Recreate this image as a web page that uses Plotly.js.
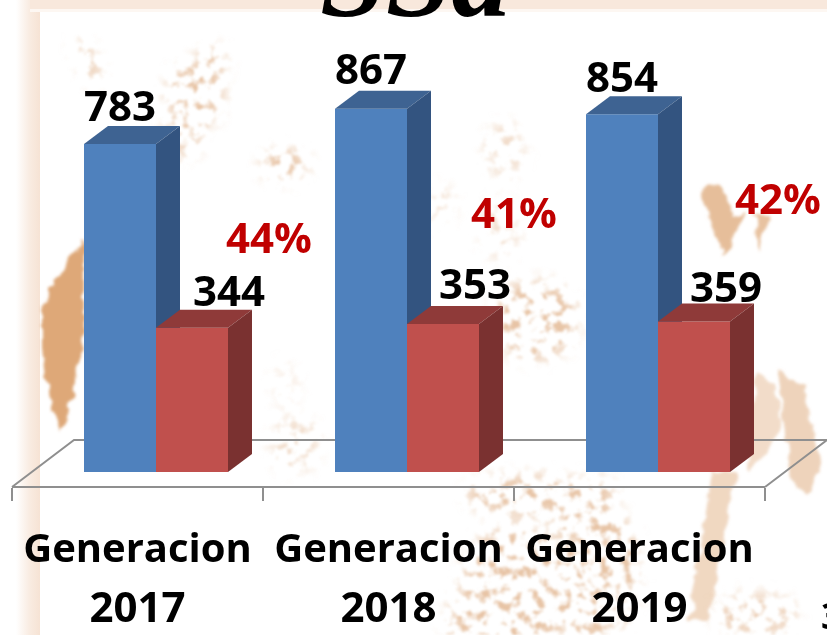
<!DOCTYPE html>
<html>
<head>
<meta charset="utf-8">
<script src="https://cdn.plot.ly/plotly-3.0.1.min.js"></script>
<style>
html,body{margin:0;padding:0;background:#fff;overflow:hidden}
#wrap{position:relative;width:827px;height:635px;overflow:hidden}
#bg,#chart{position:absolute;left:0;top:0;width:827px;height:635px}
</style>
</head>
<body>
<div id="wrap">
<svg id="bg" width="827" height="635" xmlns="http://www.w3.org/2000/svg">
  <defs>
    <filter id="rough" x="-20%" y="-20%" width="140%" height="140%">
      <feTurbulence type="fractalNoise" baseFrequency="0.07" numOctaves="2" seed="4" result="n"/>
      <feDisplacementMap in="SourceGraphic" in2="n" scale="12" xChannelSelector="R" yChannelSelector="G" result="d"/>
      <feGaussianBlur in="d" stdDeviation="1.6"/>
    </filter>
    <filter id="speck" x="0" y="0" width="100%" height="100%" filterUnits="userSpaceOnUse" primitiveUnits="userSpaceOnUse">
      <feGaussianBlur in="SourceGraphic" stdDeviation="8" result="soft"/>
      <feTurbulence type="fractalNoise" baseFrequency="0.09" numOctaves="3" seed="23" result="n"/>
      <feColorMatrix in="n" type="matrix" values="0 0 0 0 0  0 0 0 0 0  0 0 0 0 0  5 0 0 0 -2.55" result="mask"/>
      <feComposite in="soft" in2="mask" operator="in" result="c"/>
      <feGaussianBlur in="c" stdDeviation="1"/>
    </filter>
    <linearGradient id="lb" x1="0" x2="1" y1="0" y2="0">
      <stop offset="0" stop-color="#ffffff"/><stop offset="0.55" stop-color="#f9ece2"/><stop offset="1" stop-color="#f6e3d4"/>
    </linearGradient>
  </defs>
  <rect x="16" y="0" width="24" height="635" fill="url(#lb)"/>
  <rect x="30" y="0" width="797" height="9" fill="#f8e8dc"/>
  <rect x="30" y="9" width="797" height="3" fill="#fdf7f2"/>
  <g filter="url(#rough)" fill="#dea878">
    <polygon points="84,240 66,258 55,285 42,310 42,350 50,400 60,432 72,400 84,330"/>
    <polygon points="700,190 720,183 733,217 747,213 723,257" opacity=".75"/>
    <polygon points="755,215 770,215 760,252" opacity=".7"/>
    <polygon points="778,368 803,385 823,470 805,495 790,480" opacity=".5"/>
    <polygon points="757,372 775,385 782,420 766,455 748,472 750,420" opacity=".4"/>
    <polygon points="712,472 735,472 710,620 690,620" opacity=".45"/>
  </g>
  <g filter="url(#speck)" fill="#d9a06f" opacity=".62">
    <ellipse cx="195" cy="95" rx="28" ry="34"/>
    <ellipse cx="212" cy="62" rx="14" ry="16"/>
    <polygon points="72,42 88,42 104,78 90,84"/>
    <ellipse cx="285" cy="165" rx="24" ry="16"/>
    <ellipse cx="180" cy="140" rx="24" ry="18" opacity=".7"/>
    <ellipse cx="505" cy="150" rx="20" ry="28" opacity=".6"/>
    <ellipse cx="440" cy="205" rx="14" ry="20" opacity=".5"/>
    <ellipse cx="500" cy="230" rx="20" ry="30" opacity=".5"/>
    <ellipse cx="535" cy="320" rx="44" ry="40"/>
    <ellipse cx="295" cy="445" rx="24" ry="28" opacity=".6"/>
    <ellipse cx="285" cy="385" rx="14" ry="24" opacity=".3"/>
    <ellipse cx="525" cy="495" rx="60" ry="20"/>
    <ellipse cx="515" cy="590" rx="55" ry="65"/>
    <ellipse cx="590" cy="570" rx="50" ry="70"/>
    <ellipse cx="470" cy="620" rx="26" ry="26"/>
    <ellipse cx="755" cy="615" rx="42" ry="22" opacity=".8"/>
    <ellipse cx="590" cy="490" rx="30" ry="12"/>
  </g>
</svg>
<div id="chart"></div>
</div>
<script>
// ---- data ----
var categories = ["Generacion<br>2017", "Generacion<br>2018", "Generacion<br>2019"];
var egresados = [783, 867, 854];
var titulados = [344, 353, 359];
var percents = ["44%", "41%", "42%"];

// ---- geometry of the drawing (pixels of the 827x635 page) ----
var W = 827, H = 635;
var PX_PER_UNIT = 0.419, BASE_PX = 472, CAT_PX = 251, FIRST_PX = 156, BAR_PX = 72, DEPTH_X = 24, DEPTH_Y = 18;
var xu = function (px) { return (px - FIRST_PX) / CAT_PX; };
var yu = function (py) { return (BASE_PX - py) / PX_PER_UNIT; };
var barW = BAR_PX / CAT_PX, dX = DEPTH_X / CAT_PX, dY = DEPTH_Y / PX_PER_UNIT;
var xRange = [xu(0), xu(W)], yRange = [yu(H), yu(0)];

var FONT = "'Open Sans', sans-serif";
var FS = 42, CAT_FS = 40, LINE_FS = 45.8;
var labelText = function (t) {
  var parts = t.split("<br>");
  return '<span style="font-size:' + CAT_FS + 'px">' + parts[0] + '</span><br><span style="font-size:' + FS + 'px">' + parts[1] + '</span>';
};

var idx = [0, 1, 2];
function series(values, side, front, top, sideCol, yaxis) {
  var out = [];
  var xs = idx.map(function (i) { return i + side * barW / 2; });
  out.push({type: "bar", x: xs, y: values, width: barW, yaxis: yaxis, xaxis: "x",
    marker: {color: front, line: {width: 0}}, hoverinfo: "skip", showlegend: false});
  idx.forEach(function (i) {
    var x0 = xs[i] - barW / 2, x1 = xs[i] + barW / 2, v = values[i];
    out.push({type: "scatter", mode: "lines", xaxis: "x", yaxis: yaxis, fill: "toself", fillcolor: top,
      line: {width: 0, color: top}, hoverinfo: "skip", showlegend: false,
      x: [x0, x0 + dX, x1 + dX, x1, x0], y: [v, v + dY, v + dY, v, v]});
    out.push({type: "scatter", mode: "lines", xaxis: "x", yaxis: yaxis, fill: "toself", fillcolor: sideCol,
      line: {width: 0, color: sideCol}, hoverinfo: "skip", showlegend: false,
      x: [x1, x1 + dX, x1 + dX, x1, x1], y: [0, dY, v + dY, v, 0]});
  });
  return out;
}

var traces = []
  .concat(series(egresados, -1, "#4f81bd", "#3e6392", "#335480", "y"))
  .concat(series(titulados, 1, "#c0504d", "#8f3a39", "#7a3130", "y2"));
// carrier for the category axis
traces.push({type: "scatter", mode: "markers", x: idx, y: [null, null, null], xaxis: "x2", yaxis: "y",
  hoverinfo: "skip", showlegend: false, marker: {opacity: 0}});

var GRID = "#8f8f8f";
var floorPath = "M" + xu(12) + "," + yu(487) + " L" + xu(74) + "," + yu(440) + " L" + xu(827) + "," + yu(440) + " L" + xu(765) + "," + yu(487);

var labelPos = {
  egresados: [[120, 104], [371, 68], [622, 75]],
  titulados: [[229, 289], [475, 282], [726, 285]],
  percents: [[269, 236], [514, 212], [778, 197]]
};
function ann(text, p, color, size) {
  return {text: String(text), xref: "paper", yref: "paper", x: p[0] / W, y: 1 - p[1] / H, xanchor: "center", yanchor: "middle",
    showarrow: false, font: {family: FONT, size: size || FS, color: color, weight: 700}};
}
var annotations = [];
idx.forEach(function (i) {
  annotations.push(ann(egresados[i], labelPos.egresados[i], "#000"));
  annotations.push(ann(titulados[i], labelPos.titulados[i], "#000"));
  annotations.push(ann(percents[i], labelPos.percents[i], "#c00000"));
});
annotations.push({text: "<b><i>SSa</i></b>", xref: "paper", yref: "paper", x: 415 / W, y: 1 - 18 / H, xanchor: "center", yanchor: "bottom",
  yshift: -26, showarrow: false, font: {family: "Liberation Serif, serif", size: 118, color: "#000"}});
annotations.push({text: "3", xref: "paper", yref: "paper", x: 831 / W, y: 1 - 615 / H, xanchor: "center", yanchor: "middle",
  showarrow: false, font: {family: FONT, size: 36, color: "#000", weight: 700}});

var layout = {
  width: W, height: H, margin: {l: 0, r: 0, t: 0, b: 0, pad: 0},
  paper_bgcolor: "rgba(0,0,0,0)", plot_bgcolor: "rgba(0,0,0,0)",
  showlegend: false, barmode: "overlay",
  xaxis: {range: xRange, domain: [0, 1], visible: false, fixedrange: true},
  yaxis: {range: yRange, domain: [0, 1], visible: false, fixedrange: true},
  yaxis2: {range: yRange, overlaying: "y", visible: false, fixedrange: true},
  xaxis2: {
    domain: [12 / W, 765 / W], range: [-0.5, 2.5], anchor: "free", position: 1 - 487 / H, side: "bottom",
    showline: true, linecolor: GRID, linewidth: 2, showgrid: false, zeroline: false, fixedrange: true,
    tickmode: "array", tickvals: idx, ticktext: categories.map(labelText), ticks: "", ticklen: 0,
    ticklabelstandoff: 19,
    tickangle: 0,
    tickfont: {family: FONT, size: LINE_FS, color: "#000", weight: 700},
    minor: {tickmode: "array", tickvals: [-0.5, 0.5, 1.5, 2.5], ticks: "outside", ticklen: 13, tickwidth: 2, tickcolor: GRID, showgrid: false}
  },
  shapes: [{type: "path", layer: "below", xref: "x", yref: "y", path: floorPath, line: {color: GRID, width: 2}, fillcolor: "rgba(0,0,0,0)"}],
  annotations: annotations
};
Plotly.newPlot("chart", traces, layout, {displayModeBar: false, staticPlot: true});
</script>
</body>
</html>
